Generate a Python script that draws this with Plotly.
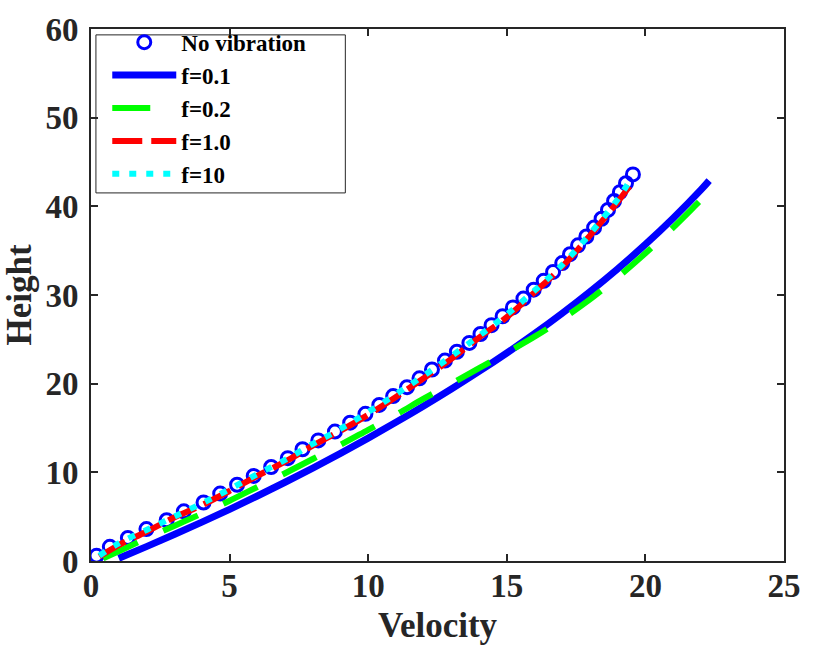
import plotly.graph_objects as go

# No vibration (markers)
nv_v = [0.2, 0.68, 1.33, 2.0, 2.73, 3.35, 4.06, 4.66, 5.27, 5.87, 6.5, 7.1, 7.63, 8.2, 8.8,
        9.35, 9.9, 10.4, 10.9, 11.4, 11.85, 12.3, 12.77, 13.2, 13.65, 14.05, 14.45, 14.85,
        15.22, 15.6, 15.97, 16.33, 16.67, 17.0, 17.28, 17.57, 17.87, 18.15, 18.42, 18.65,
        18.87, 19.08, 19.3, 19.55]
nv_h = [0.6, 1.6, 2.6, 3.6, 4.6, 5.6, 6.6, 7.6, 8.6, 9.6, 10.6, 11.6, 12.6, 13.6, 14.6,
        15.6, 16.6, 17.6, 18.6, 19.6, 20.6, 21.6, 22.6, 23.6, 24.6, 25.6, 26.6, 27.6,
        28.6, 29.6, 30.6, 31.6, 32.6, 33.6, 34.6, 35.6, 36.6, 37.6, 38.6, 39.6,
        40.6, 41.6, 42.6, 43.6]

# f=0.1
f01_v = [1.0, 2, 3, 4, 5, 6, 7, 8, 9, 10, 11, 12, 13, 14, 15, 16, 17, 18, 19, 20, 21, 22, 22.3]
f01_h = [0.3, 1.62, 2.98, 4.38, 5.83, 7.33, 8.88, 10.48, 12.14, 13.86, 15.64, 17.48, 19.39,
         21.38, 23.46, 25.64, 27.94, 30.37, 32.95, 35.7, 38.65, 41.85, 42.9]

# f=0.2
f02_v = [0.44, 1, 2, 3, 4, 5, 6, 7, 8, 9, 10, 11, 12, 13, 14, 15, 16, 17, 18, 19, 20, 21, 22, 22.2]
f02_h = [0.3, 1.1, 2.55, 3.95, 5.35, 6.8, 8.35, 9.9, 11.5, 13.1, 14.8, 16.5, 18.3, 20.0,
         21.75, 23.5, 25.3, 27.3, 29.5, 32.0, 34.7, 37.6, 40.7, 41.3]

# f=1.0
f1_v = [0.3, 1, 2, 3, 4, 5, 6, 7, 8, 9, 10, 11, 12, 13, 14, 15, 16, 17, 18, 19, 19.55]
f1_h = [0.5, 1.8, 3.3, 4.9, 6.3, 7.9, 9.6, 11.2, 13.0, 14.7, 16.5, 18.5, 20.6, 22.8, 25.2,
        27.5, 30.3, 33.2, 36.7, 40.5, 42.8]

# f=10
f10_v = [0.3, 1, 2, 3, 4, 5, 6, 7, 8, 9, 10, 11, 12, 13, 14, 15, 16, 17, 18, 19, 19.5]
f10_h = [0.6, 2.0, 3.5, 5.0, 6.5, 8.1, 9.8, 11.4, 13.2, 14.9, 16.8, 18.8, 20.9, 23.1, 25.4,
         27.8, 30.5, 33.4, 36.9, 40.8, 43.2]

x_ticks = [0, 5, 10, 15, 20, 25]
y_ticks = [0, 10, 20, 30, 40, 50, 60]

FONT = "Liberation Serif"
DARK = "#262626"

fig = go.Figure()
fig.add_trace(go.Scatter(x=nv_v, y=nv_h, mode="markers", name="No vibration",
                         marker=dict(symbol="circle-open", size=13, color="#0000ff",
                                     line=dict(width=3, color="#0000ff"))))
fig.add_trace(go.Scatter(x=f01_v, y=f01_h, mode="lines", name="f=0.1",
                         line=dict(color="#0000ff", width=7, shape="spline")))
fig.add_trace(go.Scatter(x=f02_v, y=f02_h, mode="lines", name="f=0.2",
                         line=dict(color="#00ff00", width=6, dash="38px,28px", shape="spline")))
fig.add_trace(go.Scatter(x=f1_v, y=f1_h, mode="lines", name="f=1.0",
                         line=dict(color="#ff0000", width=6, dash="30px,9px", shape="spline")))
fig.add_trace(go.Scatter(x=f10_v, y=f10_h, mode="lines", name="f=10",
                         line=dict(color="#00ffff", width=6, dash="7px,10px", shape="spline")))

axis_common = dict(showgrid=False, zeroline=False, showline=True, linecolor=DARK, linewidth=2,
                   mirror="allticks", ticks="inside", ticklen=7, tickwidth=1.5, tickcolor=DARK,
                   tickfont=dict(family=FONT, size=33, color=DARK, weight="bold"))

# legend frame (pixel box 96..349 x 25..186 inside plot area 91..794 x 19..561)
fig.add_shape(type="rect", xref="paper", yref="paper",
              x0=(96 - 91) / 703, x1=(349 - 91) / 703,
              y0=(561 - 186) / 542, y1=(561 - 25) / 542,
              line=dict(color=DARK, width=1), fillcolor="white", layer="below")

fig.update_layout(
    width=813, height=651,
    margin=dict(l=91, r=19, t=19, b=90),
    paper_bgcolor="white", plot_bgcolor="white",
    showlegend=True,
    legend=dict(x=(107.5 - 91) / 703, y=1.0155, xanchor="left", yanchor="top",
                bgcolor="rgba(0,0,0,0)", borderwidth=0,
                font=dict(family=FONT, size=23, color="black", weight="bold"),
                itemwidth=64, tracegroupgap=0),
    xaxis=dict(range=[0, 25], tickvals=x_ticks, ticklabelstandoff=-6,
               title=dict(text="Velocity", standoff=10,
                          font=dict(family=FONT, size=35, color=DARK, weight="bold")),
               **axis_common),
    yaxis=dict(range=[0, 60], tickvals=y_ticks, ticklabelstandoff=4,
               title=dict(text="Height", standoff=3,
                          font=dict(family=FONT, size=35, color=DARK, weight="bold")),
               **axis_common),
)

fig.write_html("out.html")
